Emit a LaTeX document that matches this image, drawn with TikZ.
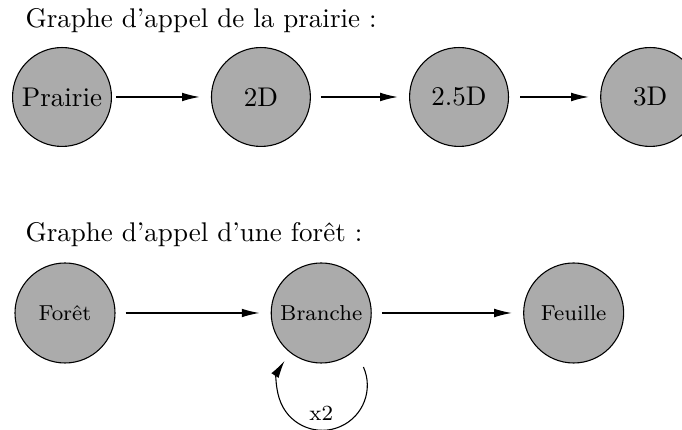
\documentclass[tikz,border=0pt]{standalone}
\usepackage{fontspec}
\usetikzlibrary{positioning,arrows.meta}
\begin{document}
\begin{tikzpicture}[
  x=0.37pt, y=0.37pt,
  proc/.style={circle, draw, fill=black!33, minimum size=36.6pt, inner sep=0pt},
  small/.style={proc, font=\footnotesize, minimum size=37pt},
  title/.style={anchor=base west, inner sep=0pt},
  call/.style={->, shorten <=3.7pt, shorten >=4.2pt},
  >={Latex[length=6.5pt,width=3.2pt]},
]
  \useasboundingbox (0,0) rectangle (682,430);
  \node[title] (t1) at (25,402) {Graphe d'appel de la prairie :};
  \node[proc] (prairie) at (62,333) {Prairie};
  \node[proc, right=36.6pt of prairie] (d2) {2D};
  \node[proc, right=36.3pt of d2] (d25) {2.5D};
  \node[proc, right=33.7pt of d25] (d3) {3D};
  \foreach \a/\b/\s in {prairie/d2/1.5pt,d2/d25/3.7pt,d25/d3/4.2pt}
    \draw[call, shorten <=\s] (\a) -- (\b);

  \node[title] (t2) at (25,188) {Graphe d'appel d'une forêt :};
  \node[small] (foret) at (65,117) {Forêt};
  \node[small, right=57.4pt of foret] (branche) {Branche};
  \node[small, right=56pt of branche] (feuille) {Feuille};
  \foreach \a/\b in {foret/branche,branche/feuille}
    \draw[call] (\a) -- (\b);
  \draw[->] (branche.-52) ++(-52:18) arc[start angle=24, end angle=-213, radius=45];
  \node[font=\footnotesize, inner sep=0pt, below=15.5pt of branche] (x2) {x2};
\end{tikzpicture}
\end{document}
